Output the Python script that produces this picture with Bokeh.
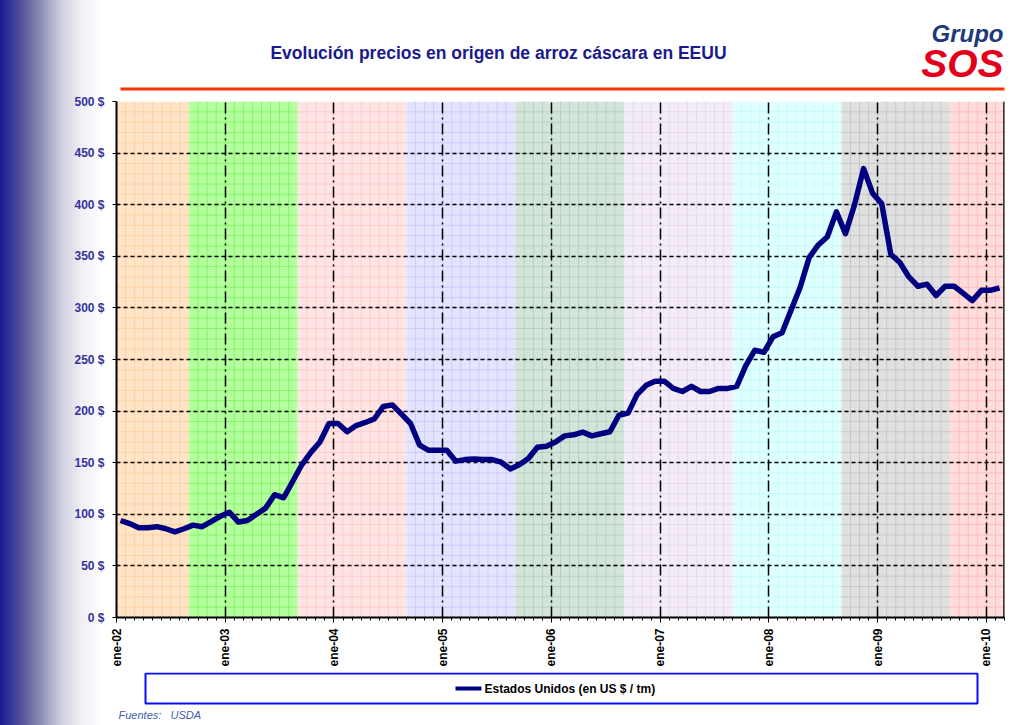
import numpy as np
from bokeh.plotting import figure
from bokeh.layouts import column
from bokeh.models import (Range1d, FixedTicker, Label, BoxAnnotation, ColumnDataSource, Span)
from bokeh.embed import file_html
from bokeh.resources import INLINE

# ---- data -------------------------------------------------------------
# monthly paddy rice farm-gate price, USA (US $ / t), Jan 2002 .. Feb 2010
prices = [94, 91, 87, 87, 88, 86, 83, 86, 89.5, 88, 93, 98,
          102, 92.5, 94, 100, 106, 119, 116, 132, 148, 160, 170, 188,
          188, 180, 186, 189, 192.5, 204.5, 206, 197, 188, 167, 162, 162,
          162, 151.5, 153, 153.5, 153, 153, 150.5, 144, 148, 154, 165, 166,
          170, 176, 177, 179.6, 176, 178, 180, 196, 198, 216, 225, 229,
          229, 222, 219, 224, 219, 219, 222, 222, 224, 244, 259, 257,
          272, 276, 298, 320, 349, 361, 369, 393, 372, 400, 435, 411,
          401, 352, 344, 330, 321, 323, 312, 321, 321, 314, 307, 317,
          317, 319.5]
series_name = "Estados Unidos (en US $ / tm)"
title_text = "Evolución precios en origen de arroz cáscara en EEUU"
source_text = "Fuentes:\u00a0\u00a0 USDA"
tick_months = [0, 12, 24, 36, 48, 60, 72, 84, 96]
tick_labels = ["ene-02", "ene-03", "ene-04", "ene-05", "ene-06",
               "ene-07", "ene-08", "ene-09", "ene-10"]
y_ticks = [0, 50, 100, 150, 200, 250, 300, 350, 400, 450, 500]
band_starts = [0, 8, 20, 32, 44, 56, 68, 80, 92]
band_ends = [8, 20, 32, 44, 56, 68, 80, 92, 98]
band_fills = ["#ffe4c8", "#b4ff9e", "#ffe4e4", "#e4e4ff", "#d3e5da",
              "#f3ecf6", "#e0ffff", "#e0e0e0", "#ffdcdc"]
band_lines = ["#ffd0a2", "#86f56a", "#ffcccc", "#cdcdfa", "#b4d2c0",
              "#e6d9ee", "#c4fbfb", "#c8c8c8", "#ffbcbc"]

X_MAX = 98
Y_MAX = 500
MID_MONTH = 0.45
W = 1018
H_HEAD, H_MAIN, H_FOOT = 92, 580, 53

GRADIENT = {"background": "linear-gradient(to right, #1a1a96 0px, #545498 22px, "
                          "#9292ba 42px, #d0d0e2 62px, #f0f0f5 82px, #ffffff 102px)"}


def canvas_box(fig, l, r, t, b, **kw):
    fig.add_layout(BoxAnnotation(left=l, right=r, top=t, bottom=b,
                                 left_units="canvas", right_units="canvas",
                                 top_units="canvas", bottom_units="canvas", **kw))


def canvas_text(fig, x, y, text, **kw):
    fig.add_layout(Label(x=x, y=y, x_units="canvas", y_units="canvas", text=text, **kw))


def deco_figure(h):
    f = figure(width=W, height=h, x_range=Range1d(0, W), y_range=Range1d(h, 0),
               x_axis_type=None, y_axis_type=None, output_backend="svg",
               toolbar_location=None, min_border=0)
    f.outline_line_color = None
    f.background_fill_alpha = 0
    f.border_fill_alpha = 0
    f.styles = GRADIENT
    return f


# ---- header -----------------------------------------------------------
head = deco_figure(H_HEAD)
canvas_text(head, 498, 52, title_text, text_font="Liberation Sans",
            text_font_style="bold", text_font_size="17.5px", text_color="#1a1a8c",
            text_align="center", text_baseline="middle")
canvas_text(head, 1003, 33, "Grupo", text_font="Liberation Sans",
            text_font_style="bold italic", text_font_size="24px",
            text_color="#1f3a78", text_align="right", text_baseline="middle")
canvas_text(head, 1003, 63, "SOS", text_font="Liberation Sans",
            text_font_style="bold italic", text_font_size="39px",
            text_color="#e3001b", text_align="right", text_baseline="middle")
canvas_box(head, 120, W, 87, 90, fill_color="#ff3300", fill_alpha=1,
           line_color=None)

# ---- main chart -------------------------------------------------------
p = figure(width=W, height=H_MAIN, x_range=Range1d(0, X_MAX), y_range=Range1d(0, Y_MAX),
           output_backend="svg", toolbar_location=None,
           min_border_left=116, min_border_right=14, min_border_top=9,
           min_border_bottom=55)
p.background_fill_color = "white"
p.border_fill_alpha = 0
p.styles = GRADIENT
p.outline_line_color = None

p.quad(left=band_starts, right=band_ends, bottom=0, top=Y_MAX,
       fill_color=band_fills, line_color=None, level="image")

x0, y0, x1, y1, cols = [], [], [], [], []
for s, e, c in zip(band_starts, band_ends, band_lines):
    for m in range(s + 1, e):
        x0.append(m); x1.append(m); y0.append(0); y1.append(Y_MAX); cols.append(c)
    for v in range(10, Y_MAX, 10):
        x0.append(s); x1.append(e); y0.append(v); y1.append(v); cols.append(c)
p.segment(x0=x0, y0=y0, x1=x1, y1=y1, line_color=cols, line_width=1, level="image")

xs = [i + MID_MONTH for i in range(len(prices))]
src = ColumnDataSource(dict(x=xs, y=prices))
p.line("x", "y", source=src, line_color="#000080", line_width=5.5, line_join="round")

# solid right border of the plot area (top edge is the dashed 500 $ grid line)
p.add_layout(Span(location=X_MAX, dimension="height", line_color="black", line_width=2.5))

xt = FixedTicker(ticks=tick_months, minor_ticks=list(range(0, X_MAX + 1)))
p.xaxis.ticker = xt
p.xgrid.ticker = xt
p.xaxis.major_label_overrides = {m: l for m, l in zip(tick_months, tick_labels)}
p.xaxis.major_label_orientation = np.pi / 2
p.xaxis.major_label_text_font = "Liberation Sans"
p.xaxis.major_label_text_font_style = "bold"
p.xaxis.major_label_text_font_size = "12px"
p.xaxis.major_label_text_color = "black"
p.xaxis.major_label_standoff = 6
p.xaxis.major_tick_out = 5
p.xaxis.major_tick_in = 0
p.xaxis.minor_tick_out = 3
p.xaxis.minor_tick_in = 0
p.xaxis.axis_line_width = 2
p.xaxis.axis_line_color = "black"

yt = FixedTicker(ticks=y_ticks, minor_ticks=[])
p.yaxis.ticker = yt
p.ygrid.ticker = yt
p.yaxis.major_label_overrides = {v: f"{v} $" for v in y_ticks}
p.yaxis.major_label_text_font = "Liberation Sans"
p.yaxis.major_label_text_font_style = "bold"
p.yaxis.major_label_text_font_size = "12px"
p.yaxis.major_label_text_color = "#333399"
p.yaxis.major_label_standoff = 8
p.yaxis.major_tick_out = 4
p.yaxis.major_tick_in = 0
p.yaxis.minor_tick_out = 0
p.yaxis.axis_line_width = 2
p.yaxis.axis_line_color = "black"

p.ygrid.grid_line_color = "black"
p.ygrid.grid_line_dash = "4 3"
p.ygrid.grid_line_width = 1.5
p.xgrid.grid_line_color = "black"
p.xgrid.grid_line_dash = "11 4 2 4"
p.xgrid.grid_line_width = 1.5

# ---- footer: legend box and source -------------------------------------
foot = deco_figure(H_FOOT)
canvas_box(foot, 145, 977, 1, 31, fill_color="white", fill_alpha=1,
           line_color="#0a0aff", line_alpha=1, line_width=2)
canvas_box(foot, 455, 481, 14, 18, fill_color="#000080", fill_alpha=1,
           line_color=None)
canvas_text(foot, 484, 16, series_name, text_font="Liberation Sans",
            text_font_style="bold", text_font_size="12px", text_color="black",
            text_align="left", text_baseline="middle")
canvas_text(foot, 118, 42, source_text, text_font="Liberation Sans",
            text_font_style="italic", text_font_size="11px", text_color="#4060b0",
            text_align="left", text_baseline="middle")

layout = column(head, p, foot, spacing=0)
open("out.html", "w").write(file_html(layout, INLINE))
